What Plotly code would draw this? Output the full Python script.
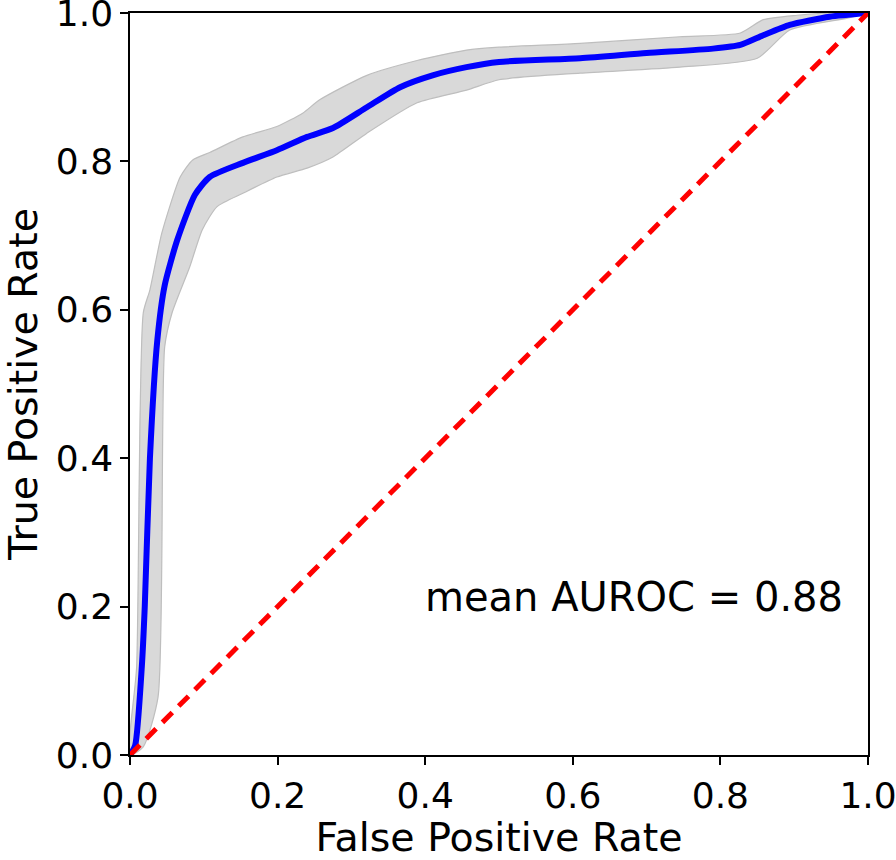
import plotly.graph_objects as go

mean_fpr = [0, 0.007, 0.016, 0.020, 0.027, 0.037, 0.047, 0.064, 0.088, 0.108, 0.153, 0.199,
            0.24, 0.275, 0.321, 0.366, 0.41, 0.456, 0.50, 0.61, 0.70, 0.79, 0.827, 0.858,
            0.894, 0.948, 1.0]
mean_tpr = [0, 0.013, 0.119, 0.2, 0.4, 0.559, 0.633, 0.694, 0.755, 0.779, 0.798, 0.815,
            0.833, 0.845, 0.873, 0.900, 0.916, 0.927, 0.934, 0.939, 0.946, 0.952, 0.957, 0.970,
            0.984, 0.995, 1.0]

upper_fpr = [0, 0.009, 0.018, 0.027, 0.043, 0.068, 0.085, 0.108, 0.153, 0.199, 0.234, 0.257,
             0.321, 0.389, 0.456, 0.50, 0.61, 0.745, 0.827, 0.858, 0.904, 0.95, 1.0]
upper_tpr = [0, 0.119, 0.596, 0.627, 0.703, 0.779, 0.802, 0.812, 0.833, 0.847, 0.865, 0.883,
             0.916, 0.936, 0.950, 0.954, 0.959, 0.968, 0.973, 0.991, 0.997, 1.0, 1.0]

lower_fpr = [0, 0.018, 0.038, 0.047, 0.057, 0.081, 0.098, 0.118, 0.153, 0.199, 0.24, 0.275,
             0.321, 0.389, 0.456, 0.50, 0.61, 0.745, 0.85, 0.894, 0.972, 1.0]
lower_tpr = [0, 0.011, 0.078, 0.55, 0.596, 0.658, 0.708, 0.739, 0.757, 0.779, 0.791, 0.806,
             0.838, 0.879, 0.896, 0.910, 0.919, 0.927, 0.939, 0.977, 0.993, 1.0]

chance_x = [0, 1]
chance_y = [0, 1]

tick_vals = [0.0, 0.2, 0.4, 0.6, 0.8, 1.0]
tick_text = ["0.0", "0.2", "0.4", "0.6", "0.8", "1.0"]

auroc_text = "mean AUROC = 0.88"
x_title = "False Positive Rate"
y_title = "True Positive Rate"

FONT = "DejaVu Sans"

fig = go.Figure()

band_x = upper_fpr + lower_fpr[::-1]
band_y = upper_tpr + lower_tpr[::-1]
fig.add_trace(go.Scatter(
    x=band_x, y=band_y, mode="lines", fill="toself",
    fillcolor="rgb(217,217,217)",
    line=dict(color="rgb(190,190,190)", width=1.2, shape="spline", smoothing=0.6),
    showlegend=False, hoverinfo="skip"))

fig.add_trace(go.Scatter(
    x=mean_fpr, y=mean_tpr, mode="lines",
    line=dict(color="rgb(0,0,255)", width=6, shape="spline", smoothing=0.6),
    showlegend=False))

fig.add_trace(go.Scatter(
    x=chance_x, y=chance_y, mode="lines",
    line=dict(color="rgb(255,0,0)", width=5, dash="14px,9px"),
    showlegend=False))

fig.add_annotation(
    x=0.969, y=0.213, xref="x", yref="y", text=auroc_text, showarrow=False,
    xanchor="right", yanchor="middle",
    font=dict(family=FONT, size=40, color="black"))

axis_common = dict(
    range=[0, 1], tickvals=tick_vals, ticktext=tick_text,
    showgrid=False, zeroline=False, showline=True, mirror=True,
    linecolor="black", linewidth=1.5, ticks="outside", ticklen=8, tickwidth=1.5,
    tickcolor="black", tickfont=dict(family=FONT, size=36, color="black"),
    ticklabeloverflow="allow", automargin=False,
)

fig.update_xaxes(**axis_common,
                 title=dict(text=x_title, font=dict(family=FONT, size=39.5, color="black"), standoff=27))
fig.update_yaxes(**axis_common,
                 title=dict(text=y_title, font=dict(family=FONT, size=39.5, color="black"), standoff=12))

fig.update_layout(
    width=896, height=860,
    margin=dict(l=130, r=28, t=13, b=105),
    plot_bgcolor="white", paper_bgcolor="white",
    font=dict(family=FONT),
)

fig.write_html("out.html", config={"displayModeBar": False},
               post_script="document.body.style.margin='0';document.body.style.overflow='hidden';")
